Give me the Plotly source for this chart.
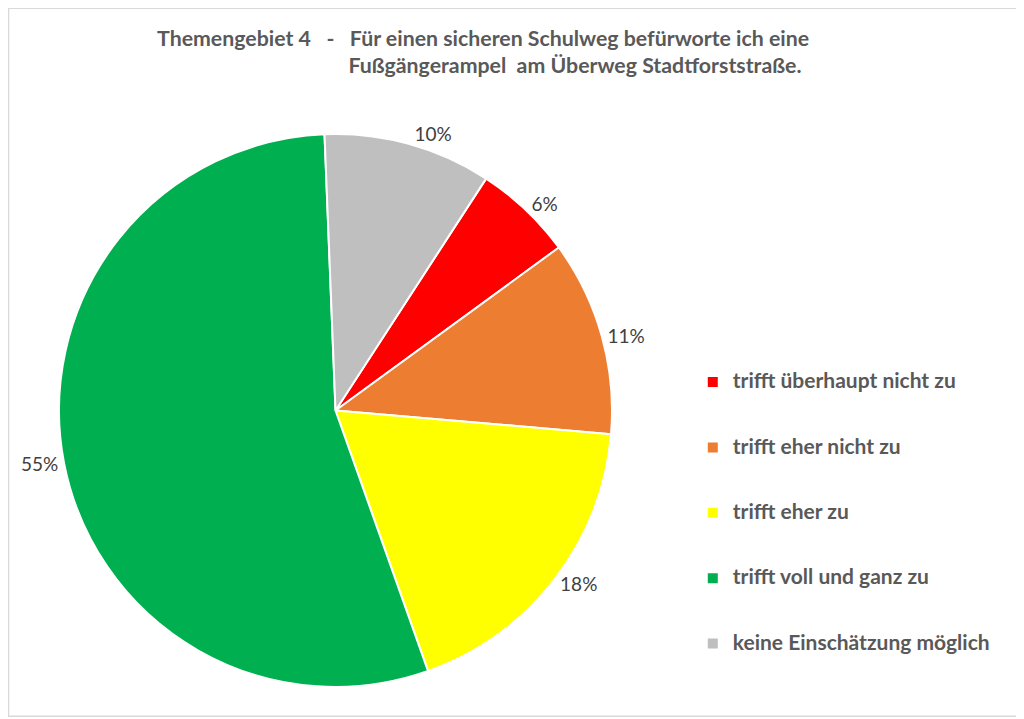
import plotly.graph_objects as go

# answer categories (legend order) and shares in percent
labels = ["trifft überhaupt nicht zu", "trifft eher nicht zu", "trifft eher zu",
          "trifft voll und ganz zu", "keine Einschätzung möglich"]
values = [5.8, 11.4, 18.2, 54.8, 9.8]
colors = ["#FF0000", "#ED7D31", "#FFFF00", "#00B050", "#BFBFBF"]

title = ("Themengebiet 4&nbsp;&nbsp; -&nbsp;&nbsp; Für einen sicheren Schulweg befürworte ich eine<br>"
         + "&nbsp;" * 37 + "Fußgängerampel&nbsp; am Überweg Stadtforststraße.")

# blank padding lines give the legend entries Excel-like spacing
legend_names = ["<br><span style='font-size:21px'><b>" + l + "</b></span><br> " for l in labels]

fig = go.Figure()
fig.add_trace(go.Pie(
    labels=legend_names,
    values=values,
    sort=False,
    direction="clockwise",
    rotation=33,
    marker=dict(colors=colors, line=dict(color="white", width=2)),
    textposition="outside",
    texttemplate="%{percent:.0%}",
    textfont=dict(size=19, color="#404040", family="Lato"),
    domain=dict(x=[0.0502, 0.5945], y=[0.0436, 0.8242]),
    automargin=False,
    hoverinfo="skip",
))

# page body adds 8px, so the figure is 8px smaller than the window
fig.update_layout(
    width=1016, height=711,
    margin=dict(l=0, r=0, t=0, b=0, autoexpand=False),
    paper_bgcolor="white",
    font=dict(family="Lato", color="#595959"),
    title=dict(text="<b>" + title + "</b>", x=0.1467, xanchor="left", y=0.947, yanchor="top",
               font=dict(size=21.3, color="#595959", family="Lato")),
    legend=dict(x=0.674, y=0.29, xanchor="left", yanchor="middle",
                font=dict(size=16, color="#595959", family="Lato"),
                itemwidth=30),
    shapes=[dict(type="rect", xref="paper", yref="paper", x0=0.0005, x1=0.998, y0=0.004, y1=0.9995,
                 line=dict(color="#D9D9D9", width=1.5))],
)

fig.write_html("out.html")
